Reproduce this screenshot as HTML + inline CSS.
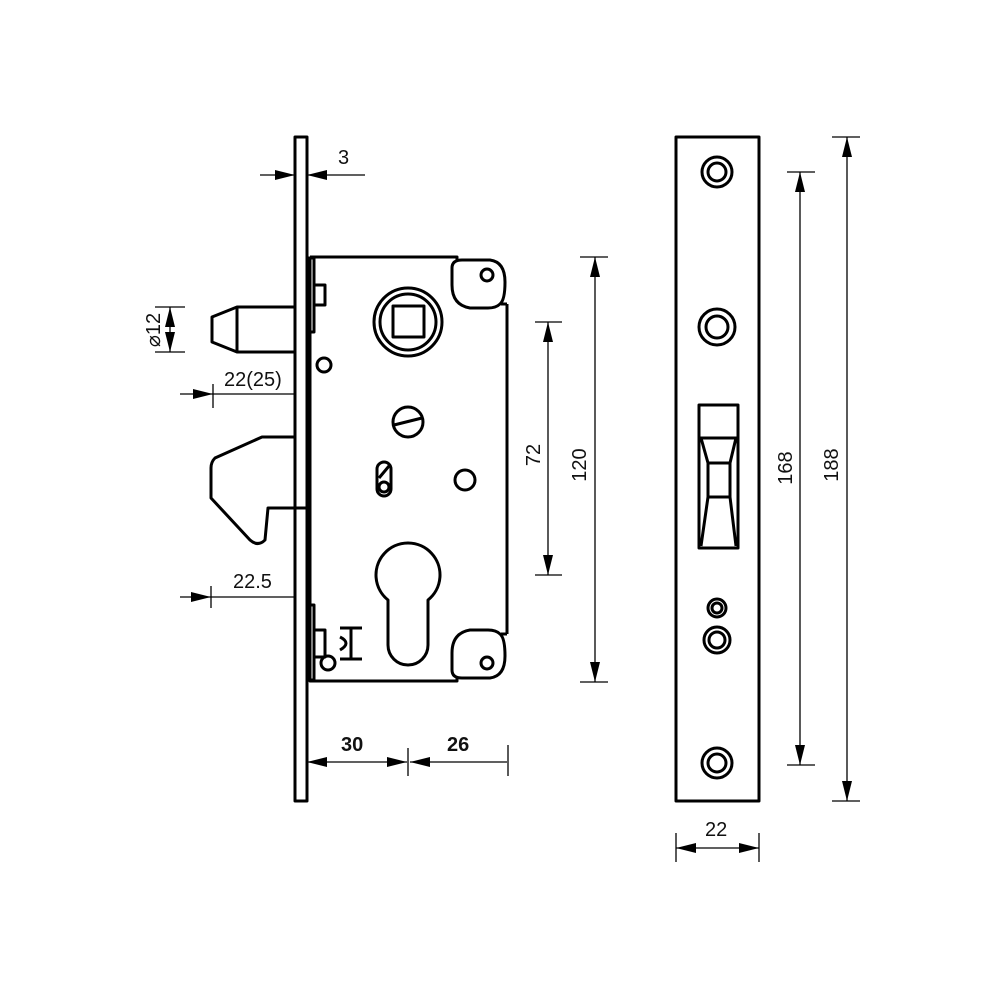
<!DOCTYPE html>
<html><head><meta charset="utf-8"><style>html,body{margin:0;padding:0;background:#fff}svg{display:block}text{font-family:"Liberation Sans",sans-serif;fill:#111}</style></head>
<body>
<svg width="1000" height="1000" viewBox="0 0 1000 1000" xmlns="http://www.w3.org/2000/svg">
<defs>
<marker id="a" viewBox="0 0 20 10" refX="20" refY="5" markerWidth="20" markerHeight="10" markerUnits="userSpaceOnUse" orient="auto-start-reverse"><path d="M0,0 L20,5 L0,10 z" fill="#000"/></marker>
</defs>
<g fill="none" stroke="#000" stroke-width="3" stroke-linejoin="round">
<rect x="295" y="137" width="12" height="664"/>
<path d="M310,257 H457 V260 M457,678 V681 H310 V257"/>
<path d="M507,304 V634 M501,304 H507 M501,634 H507"/>
<path d="M462,260 H490 Q505,262 505,282 Q505,300 500,304 Q496,308 488,308 H470 Q452,305 452,285 V268 Q452,260 462,260 Z"/>
<path d="M462,678 H490 Q505,676 505,656 Q505,638 500,634 Q496,630 488,630 H470 Q452,633 452,653 V670 Q452,678 462,678 Z"/>
<circle cx="487" cy="275" r="6"/>
<circle cx="487" cy="663" r="6"/>
<circle cx="408" cy="322" r="34"/>
<circle cx="408" cy="322" r="28"/>
<rect x="393" y="306" width="31" height="31"/>
<circle cx="324" cy="365" r="7"/>
<circle cx="408" cy="422" r="15"/>
<path d="M394,425 L422,418"/>
<rect x="377" y="462" width="14" height="34" rx="7"/>
<path d="M379,478 L389,466"/>
<circle cx="384" cy="487" r="5"/>
<circle cx="465" cy="480" r="10"/>
<path d="M388,600 A32,32 0 1,1 428,600 V645 A20,20 0 0,1 388,645 Z"/>
<rect x="308" y="258" width="6" height="74"/>
<rect x="314" y="285" width="11" height="20"/>
<rect x="308" y="605" width="6" height="75"/>
<rect x="314" y="630" width="11" height="27"/>
<circle cx="328" cy="663" r="7"/>
<path d="M340,628 H362 M351,628 V659 M340,659 H362 M340,637 Q352,643 340,650"/>
<path d="M295,307 H237 L212,317 V342 L237,352 H295 M237,307 V352"/>
<path d="M295,437 H262 L215,458 Q211,462 211,468 V498 L250,540 Q258,547 265,540 L268,508 H307"/>
<rect x="676" y="137" width="83" height="664"/>
<circle cx="717" cy="172" r="15"/><circle cx="717" cy="172" r="9"/>
<circle cx="717" cy="327" r="18"/><circle cx="717" cy="327" r="11"/>
<circle cx="717" cy="763" r="15"/><circle cx="717" cy="763" r="9"/>
<circle cx="717" cy="608" r="9"/><circle cx="717" cy="608" r="5"/>
<circle cx="717" cy="640" r="13"/><circle cx="717" cy="640" r="8"/>
<rect x="699" y="405" width="39" height="143"/>
<path d="M699,438 H738 M708,463 H730 V497 H708 Z M701,438 L708,463 M736,438 L730,463 M708,497 L701,546 M730,497 L736,546"/>
</g>
<g fill="none" stroke="#000" stroke-width="1.3">
<line x1="260" y1="175" x2="295" y2="175" marker-end="url(#a)"/>
<line x1="365" y1="175" x2="307" y2="175" marker-end="url(#a)"/>
<line x1="155" y1="307" x2="185" y2="307"/><line x1="155" y1="352" x2="185" y2="352"/>
<line x1="170" y1="329" x2="170" y2="307" marker-end="url(#a)"/>
<line x1="170" y1="329" x2="170" y2="352" marker-end="url(#a)"/>
<line x1="180" y1="394" x2="213" y2="394" marker-end="url(#a)"/>
<line x1="213" y1="394" x2="295" y2="394"/><line x1="213" y1="384" x2="213" y2="408"/>
<line x1="180" y1="597" x2="211" y2="597" marker-end="url(#a)"/>
<line x1="211" y1="597" x2="295" y2="597"/><line x1="211" y1="586" x2="211" y2="608"/>
<line x1="307" y1="762" x2="407" y2="762" marker-start="url(#a)" marker-end="url(#a)"/>
<line x1="410" y1="762" x2="507" y2="762" marker-start="url(#a)"/>
<line x1="408" y1="748" x2="408" y2="776"/><line x1="508" y1="745" x2="508" y2="776"/>
<line x1="548" y1="322" x2="548" y2="575" marker-start="url(#a)" marker-end="url(#a)"/>
<line x1="535" y1="322" x2="562" y2="322"/><line x1="535" y1="575" x2="562" y2="575"/>
<line x1="595" y1="257" x2="595" y2="682" marker-start="url(#a)" marker-end="url(#a)"/>
<line x1="580" y1="257" x2="608" y2="257"/><line x1="580" y1="682" x2="608" y2="682"/>
<line x1="800" y1="172" x2="800" y2="765" marker-start="url(#a)" marker-end="url(#a)"/>
<line x1="787" y1="172" x2="815" y2="172"/><line x1="787" y1="765" x2="815" y2="765"/>
<line x1="847" y1="137" x2="847" y2="801" marker-start="url(#a)" marker-end="url(#a)"/>
<line x1="832" y1="137" x2="860" y2="137"/><line x1="832" y1="801" x2="860" y2="801"/>
<line x1="676" y1="848" x2="759" y2="848" marker-start="url(#a)" marker-end="url(#a)"/>
<line x1="676" y1="833" x2="676" y2="862"/><line x1="759" y1="833" x2="759" y2="862"/>
</g>
<g font-size="20">
<text x="338" y="164">3</text>
<text x="224" y="386">22(25)</text>
<text x="233" y="588">22.5</text>
<text x="705" y="836">22</text>
<text transform="translate(160,330) rotate(-90)" text-anchor="middle">⌀12</text>
<text transform="translate(540,455) rotate(-90)" text-anchor="middle">72</text>
<text transform="translate(586,465) rotate(-90)" text-anchor="middle">120</text>
<text transform="translate(792,468) rotate(-90)" text-anchor="middle">168</text>
<text transform="translate(838,465) rotate(-90)" text-anchor="middle">188</text>
<text x="341" y="751" font-weight="bold">30</text>
<text x="447" y="751" font-weight="bold">26</text>
</g>
</svg>
</body></html>
